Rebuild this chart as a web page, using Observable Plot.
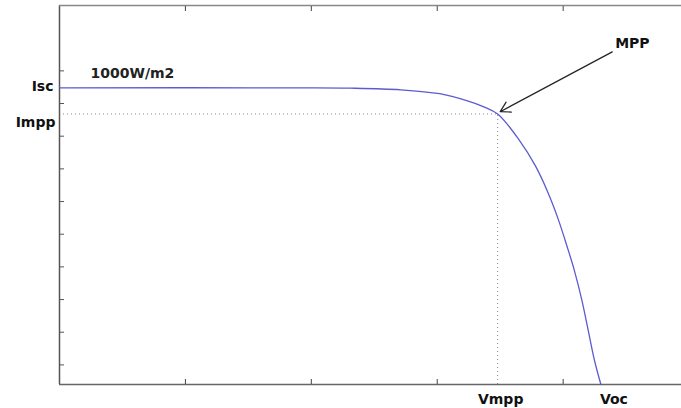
<!DOCTYPE html>
<html><head><meta charset="utf-8">
<script src="https://cdn.jsdelivr.net/npm/d3@7"></script>
<script src="https://cdn.jsdelivr.net/npm/@observablehq/plot@0.6"></script>
<style>body{margin:0;background:#fff}</style>
</head><body><div id="chart"></div>
<script>
// I-V curve of a PV module (arbitrary units)
const voltage = [0, 1.91, 2.31, 2.71, 3.02, 3.24, 3.37, 3.48, 3.65, 3.78, 3.88, 3.96, 4.03, 4.09, 4.15, 4.20, 4.25, 4.30];
const current = [9.48, 9.48, 9.47, 9.42, 9.30, 9.08, 8.90, 8.68, 7.89, 7.09, 6.27, 5.47, 4.64, 3.88, 2.96, 2.04, 1.12, 0.40];
const Isc = 9.48, Impp = 8.68, Vmpp = 3.48, Voc = 4.30;
const xTicks = [1, 2, 3, 4];
const yTicks = [1, 2, 3, 4, 5, 6, 7, 8, 9, 10];
const xDomain = [0, 4.94];
const yDomain = [0.4, 12];
const irradianceLabel = ["1000W/m2"];
const irradianceAt = [0.246, 9.91];
const mppLabel = ["MPP"];
const mppLabelAt = [4.55, 10.83];
const arrowFrom = [4.39, 10.58];
const arrowTo = [3.50, 8.75];

const curve = voltage.map((v, i) => ({v, i: current[i]}));
const font = "DejaVu Sans, Liberation Sans, Arial, sans-serif";

const chart = Plot.plot({
  width: 681, height: 408,
  marginLeft: 59, marginRight: 0, marginTop: 5, marginBottom: 24,
  style: {fontFamily: font, background: "#fff"},
  x: {domain: xDomain},
  y: {domain: yDomain},
  marks: [
    // dotted guides
    Plot.ruleY([Impp], {x1: xDomain[0], x2: Vmpp, stroke: "#888", strokeWidth: 1, strokeDasharray: "1,3"}),
    Plot.ruleX([Vmpp], {y1: yDomain[0], y2: Impp, stroke: "#888", strokeWidth: 1, strokeDasharray: "1,3"}),
    // frame lines
    Plot.ruleX([xDomain[0]], {stroke: "#555", strokeWidth: 1.5}),
    Plot.ruleY([yDomain[0]], {stroke: "#666", strokeWidth: 1.5}),
    Plot.ruleY([yDomain[1]], {stroke: "#888", strokeWidth: 1.5}),
    // inward ticks
    Plot.axisY(yTicks, {anchor: "left", tickSize: -5, tickFormat: () => "", label: null, stroke: "#555"}),
    Plot.axisX(xTicks, {anchor: "bottom", tickSize: -5, tickFormat: () => "", label: null, stroke: "#444"}),
    Plot.axisX(xTicks, {anchor: "top", tickSize: -5, tickFormat: () => "", label: null, stroke: "#444"}),
    // I-V curve
    Plot.line(curve, {x: "v", y: "i", stroke: "#5b5bd2", strokeWidth: 1.3, curve: "catmull-rom"}),
    // MPP arrow
    Plot.arrow([0], {x1: arrowFrom[0], y1: arrowFrom[1], x2: arrowTo[0], y2: arrowTo[1], stroke: "#222", strokeWidth: 1.2, headLength: 14}),
    // labels
    Plot.text(mppLabel, {x: mppLabelAt[0], y: mppLabelAt[1], text: d => d, fontSize: 14, fontWeight: "bold", fill: "#111"}),
    Plot.text(irradianceLabel, {x: irradianceAt[0], y: irradianceAt[1], text: d => d, textAnchor: "start", fontSize: 14, fontWeight: "bold", fill: "#222"}),
    Plot.text(["Isc"], {x: xDomain[0], y: Isc, text: d => d, textAnchor: "end", dx: -6, dy: -1, fontSize: 14, fontWeight: "bold", fill: "#111"}),
    Plot.text(["Impp"], {x: xDomain[0], y: Impp, text: d => d, textAnchor: "end", dx: -4, dy: 9, fontSize: 14, fontWeight: "bold", fill: "#111"}),
    Plot.text(["Vmpp"], {x: Vmpp, y: yDomain[0], text: d => d, dx: 3, dy: 15, fontSize: 14, fontWeight: "bold", fill: "#111"}),
    Plot.text(["Voc"], {x: Voc, y: yDomain[0], text: d => d, textAnchor: "start", dx: -1, dy: 15, fontSize: 14, fontWeight: "bold", fill: "#111"})
  ]
});
document.getElementById("chart").appendChild(chart);
</script>
</body></html>
